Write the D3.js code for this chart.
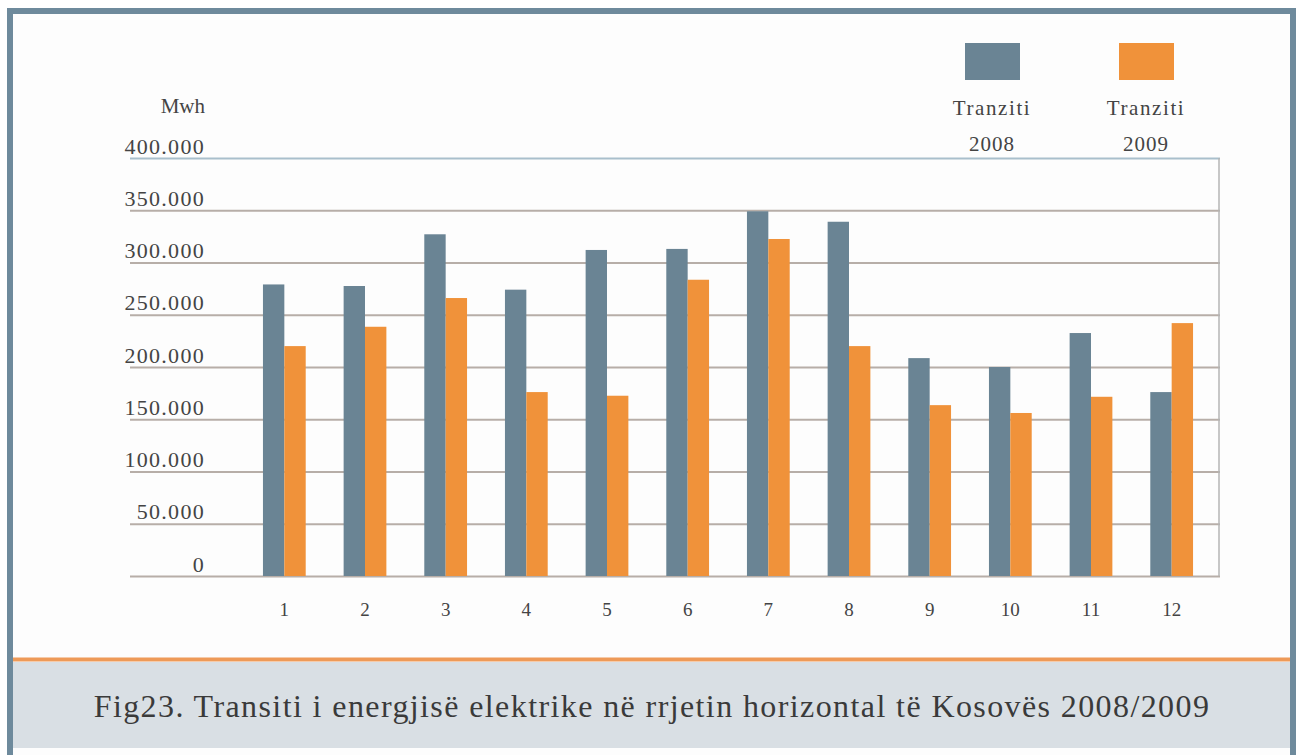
<!DOCTYPE html>
<html>
<head>
<meta charset="utf-8">
<script src="https://cdn.jsdelivr.net/npm/d3@7"></script>
<style>
  body { margin: 0; background: #fff; }
  svg { display: block; font-family: "Liberation Serif", "Times New Roman", serif; }
</style>
</head>
<body>
<svg id="chart" width="1301" height="755"></svg>
<script>
// monthly transit, MWh
const months = ["1", "2", "3", "4", "5", "6", "7", "8", "9", "10", "11", "12"];
const transit2008 = [279000, 277500, 327000, 274000, 312000, 313000, 349000, 339000, 208500, 200000, 232500, 176000];
const transit2009 = [220000, 238500, 266000, 176000, 172500, 283500, 322500, 220000, 163500, 156000, 171500, 242000];
const seriesNames = ["Tranziti 2008", "Tranziti 2009"];
const yTicks = [0, 50000, 100000, 150000, 200000, 250000, 300000, 350000, 400000];

const colors = { "Tranziti 2008": "#6a8494", "Tranziti 2009": "#f0923a" };
const serif = '"Liberation Serif", "Times New Roman", serif';

const svg = d3.select("#chart");

// frame + caption band
svg.append("rect")
    .attr("x", 10).attr("y", 11)
    .attr("width", 1283).attr("height", 760)
    .attr("fill", "#fdfdfd")
    .attr("stroke", "#6e8a9c")
    .attr("stroke-width", 6);

svg.append("rect")
    .attr("x", 13).attr("y", 662)
    .attr("width", 1277).attr("height", 86)
    .attr("fill", "#d9dfe4");

svg.append("line")
    .attr("x1", 13).attr("x2", 1290)
    .attr("y1", 659.5).attr("y2", 659.5)
    .attr("stroke", "#ee9a58")
    .attr("stroke-width", 4);

svg.append("text")
    .attr("x", 652).attr("y", 717)
    .attr("text-anchor", "middle")
    .style("font-size", "32px")
    .style("letter-spacing", "1.4px")
    .style("fill", "#3a3a3a")
    .text("Fig23. Transiti i energjisë elektrike në rrjetin horizontal të Kosovës 2008/2009");

// scales
const plotLeft = 130, plotRight = 1220;
const y = d3.scaleLinear().domain([0, 400000]).range([576, 158]);
const x0 = d3.scaleBand().domain(months).range([244, 1212]).paddingInner(0.47).paddingOuter(0.235);
const x1 = d3.scaleBand().domain(seriesNames).range([0, x0.bandwidth()]);

const fmt = v => d3.format(",")(v).replace(/,/g, ".");

// y axis: gridlines + labels
const yAxis = svg.append("g")
    .attr("transform", `translate(${plotRight},0)`)
    .call(d3.axisLeft(y)
        .tickValues(yTicks)
        .tickSize(plotRight - plotLeft)
        .tickPadding(-75)
        .tickFormat(fmt))
    .attr("font-family", serif);
yAxis.select(".domain").remove();
yAxis.selectAll(".tick line")
    .attr("stroke", (d) => d === 400000 ? "#a9bfcc" : "#b7aea8")
    .attr("stroke-width", 2);
yAxis.selectAll(".tick text")
    .attr("dy", "-5px")
    .style("font-size", "22px")
    .style("letter-spacing", "1.3px")
    .style("fill", "#444");

// right edge of plot box
svg.append("line")
    .attr("x1", plotRight - 1).attr("x2", plotRight - 1)
    .attr("y1", y(400000)).attr("y2", y(0))
    .attr("stroke", "#b5b5b5")
    .attr("stroke-width", 1.5);

svg.append("text")
    .attr("x", 205).attr("y", 113)
    .attr("text-anchor", "end")
    .style("font-size", "21px")
    .style("fill", "#444")
    .text("Mwh");

// bars
const rows = months.map((m, i) => ({ month: m, values: [transit2008[i], transit2009[i]] }));

svg.append("g")
    .selectAll("g")
    .data(rows)
    .join("g")
    .attr("transform", (d) => `translate(${x0(d.month)},0)`)
    .selectAll("rect")
    .data((d) => seriesNames.map((s, j) => ({ key: s, value: d.values[j] })))
    .join("rect")
    .attr("x", (d) => x1(d.key))
    .attr("y", (d) => y(d.value))
    .attr("width", x1.bandwidth())
    .attr("height", (d) => y(0) - y(d.value))
    .attr("fill", (d) => colors[d.key]);

// x axis
const xAxis = svg.append("g")
    .attr("transform", `translate(0,${y(0)})`)
    .call(d3.axisBottom(x0).tickSize(0).tickPadding(27))
    .attr("font-family", serif);
xAxis.select(".domain").remove();
xAxis.selectAll(".tick text")
    .style("font-size", "19px")
    .style("fill", "#444");

// legend
const legendX = d3.scaleOrdinal().domain(seriesNames).range([992, 1146]);
const legend = svg.append("g")
    .selectAll("g")
    .data(seriesNames)
    .join("g")
    .attr("transform", (d) => `translate(${legendX(d)},0)`);

legend.append("rect")
    .attr("x", -27).attr("y", 43)
    .attr("width", 55).attr("height", 37)
    .attr("fill", (d) => colors[d]);

legend.append("text")
    .attr("text-anchor", "middle")
    .attr("y", 115)
    .style("font-size", "21px")
    .style("letter-spacing", "1.6px")
    .style("fill", "#444")
    .text((d) => d.split(" ")[0]);

legend.append("text")
    .attr("text-anchor", "middle")
    .attr("y", 151)
    .style("font-size", "21px")
    .style("letter-spacing", "1px")
    .style("fill", "#444")
    .text((d) => d.split(" ")[1]);
</script>
</body>
</html>
